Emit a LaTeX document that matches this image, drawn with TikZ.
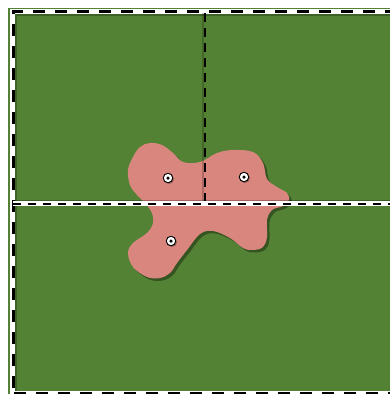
\documentclass[tikz,border=0pt]{standalone}
\begin{document}
\begin{tikzpicture}[x=1pt,y=-1pt]
\definecolor{fieldgreen}{RGB}{84,130,53}
\definecolor{blobpink}{RGB}{217,134,126}
\tikzset{
  whiteband/.style={draw=white,line width=#1},
  blackdash/.style={draw=black,line width=2.6pt,dash pattern=on 12pt off 10pt},
  middash/.style={draw=black,line width=2pt,dash pattern=on 8pt off 7pt},
  shadowline/.style={draw=black,opacity=0.25,line width=3pt},
  marker/.style={circle,draw=black,line width=0.9pt,fill=white,minimum size=9.5pt,inner sep=0pt},
  markercore/.style={circle,fill=black,minimum size=3.5pt,inner sep=0pt}
}
\def\blobpath{plot[smooth cycle,tension=0.6] coordinates {
 (150,143) (162,145) (173,153) (183,162) (200,162) (217,153) (233,150) (253,152)
 (263,163) (267,179) (277,187) (287,193) (289,200) (283,206) (272,210) (267,220) (267,237)
 (263,247) (253,250) (243,248) (230,238) (213,231) (200,234) (187,250) (177,263)
 (170,273) (160,278) (147,277) (133,267) (128,253) (133,243) (147,233) (153,223)
 (152,213) (145,203) (137,195) (130,185) (128,170) (133,157) (140,147)}}
\useasboundingbox (0,0) rectangle (389,394);
\fill[white] (0,0) rectangle (389,394);
% field
\fill[fieldgreen] (8,8) rectangle (400,400);
% frame shadow
\draw[shadowline] (15.5,410) -- (15.5,14) -- (400,14);
% outer frame
\draw[whiteband=5pt] (12,410) -- (12,11) -- (400,11);
\draw[whiteband=5pt] (12,393.5) -- (400,393.5);
\draw[blackdash] (13.5,410) -- (13.5,11.5) -- (400,11.5);
\draw[blackdash] (13.5,393.5) -- (400,393.5);
% blob shadow
\fill[black,opacity=0.35,shift={(2.5,2.5)}] \blobpath;
% blob
\fill[blobpink] \blobpath;
% vertical divider
\coordinate (vtop) at (205,13);
\coordinate (vbot) at (205,203);
\draw[black,opacity=0.2,line width=2.5pt] ([xshift=-2pt]vtop) -- ([xshift=-2pt]vbot);
\draw[black,line width=2.5pt,dash pattern=on 9pt off 6pt] (vtop) -- (vbot);
% horizontal divider
\coordinate (hl) at (13,203.5);
\coordinate (hr) at (400,203.5);
\draw[black,opacity=0.25,line width=2pt] ([yshift=3pt]hl) -- ([yshift=3pt]hr);
\draw[whiteband=5pt] (hl) -- (hr);
\draw[middash] (hl) -- (hr);
% markers
\foreach \n/\p in {m1/{(168,178)},m2/{(244,177)},m3/{(171,241)}}{
  \fill[black,opacity=0.3] \p ++(1,1) circle (5pt);
  \node[marker] (\n) at \p {};
  \node[markercore] at (\n) {};
}
\end{tikzpicture}
\end{document}
